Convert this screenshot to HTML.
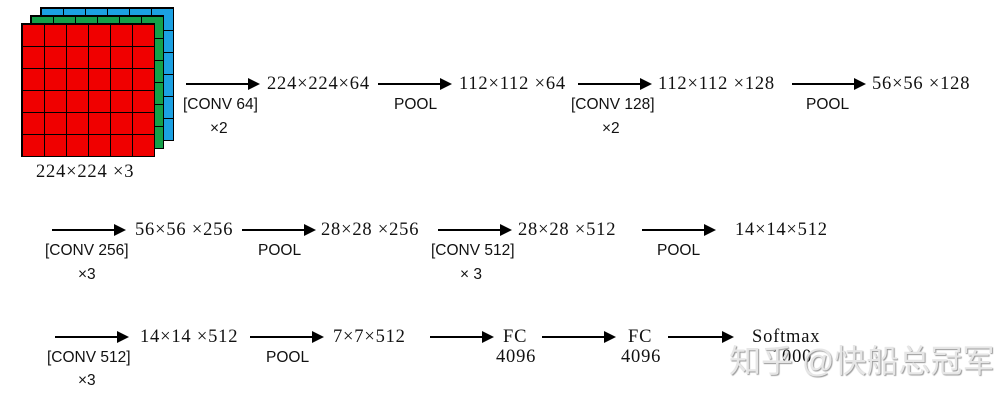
<!DOCTYPE html>
<html><head><meta charset="utf-8"><style>
body{margin:0;width:998px;height:410px;background:#fff;position:relative;overflow:hidden}
.t{position:absolute;font-family:"Liberation Serif",serif;font-size:18.5px;letter-spacing:0.8px;line-height:1;color:#111;white-space:nowrap}
.s{position:absolute;font-family:"Liberation Sans",sans-serif;font-size:15.5px;line-height:1;color:#111;white-space:nowrap}
.a{position:absolute;height:2px;background:#000}
.a:after{content:"";position:absolute;right:-2px;top:-5px;border-left:12px solid #000;border-top:6px solid transparent;border-bottom:6px solid transparent}
.g{position:absolute;border:1px solid #000;box-sizing:border-box;
background-image:linear-gradient(#000 1px,transparent 1px),linear-gradient(90deg,#000 1px,transparent 1px);background-size:22px 22px}
</style></head><body>
<div class="g" style="left:40px;top:7px;width:134px;height:134px;background-color:#1ba1e2"></div>
<div class="g" style="left:30px;top:15px;width:134px;height:134px;background-color:#14a04a"></div>
<div class="g" style="left:21px;top:23px;width:134px;height:134px;background-color:#f00000"></div>
<div class="t" style="left:36px;top:163px">224×224 ×3</div>

<div class="a" style="left:186px;top:83px;width:72px"></div>
<div class="t" style="left:267px;top:75px">224×224×64</div>
<div class="a" style="left:378px;top:83px;width:72px"></div>
<div class="t" style="left:459px;top:75px">112×112 ×64</div>
<div class="a" style="left:578px;top:83px;width:72px"></div>
<div class="t" style="left:658px;top:75px">112×112 ×128</div>
<div class="a" style="left:792px;top:83px;width:72px"></div>
<div class="t" style="left:872px;top:75px">56×56 ×128</div>
<div class="s" style="left:183px;top:97px">[CONV 64]</div>
<div class="s" style="left:210px;top:121px">×2</div>
<div class="s" style="left:394px;top:97px">POOL</div>
<div class="s" style="left:571px;top:97px">[CONV 128]</div>
<div class="s" style="left:602px;top:121px">×2</div>
<div class="s" style="left:806px;top:97px">POOL</div>

<div class="a" style="left:52px;top:229px;width:72px"></div>
<div class="t" style="left:135px;top:221px">56×56 ×256</div>
<div class="a" style="left:242px;top:229px;width:72px"></div>
<div class="t" style="left:321px;top:221px">28×28 ×256</div>
<div class="a" style="left:438px;top:229px;width:72px"></div>
<div class="t" style="left:518px;top:221px">28×28 ×512</div>
<div class="a" style="left:642px;top:229px;width:72px"></div>
<div class="t" style="left:735px;top:221px">14×14×512</div>
<div class="s" style="left:45px;top:243px">[CONV 256]</div>
<div class="s" style="left:78px;top:267px">×3</div>
<div class="s" style="left:258px;top:243px">POOL</div>
<div class="s" style="left:431px;top:243px">[CONV 512]</div>
<div class="s" style="left:460px;top:267px">× 3</div>
<div class="s" style="left:657px;top:243px">POOL</div>

<div class="a" style="left:55px;top:336px;width:72px"></div>
<div class="t" style="left:140px;top:328px">14×14 ×512</div>
<div class="a" style="left:250px;top:336px;width:72px"></div>
<div class="t" style="left:333px;top:328px">7×7×512</div>
<div class="a" style="left:430px;top:336px;width:62px"></div>
<div class="t" style="left:503px;top:328px">FC</div>
<div class="t" style="left:496px;top:348px">4096</div>
<div class="a" style="left:542px;top:336px;width:72px"></div>
<div class="t" style="left:628px;top:328px">FC</div>
<div class="t" style="left:621px;top:348px">4096</div>
<div class="a" style="left:668px;top:336px;width:64px"></div>
<div class="t" style="left:752px;top:328px">Softmax</div>
<div class="t" style="left:772px;top:348px">1000</div>
<div class="s" style="left:47px;top:350px">[CONV 512]</div>
<div class="s" style="left:78px;top:373px">×3</div>
<div class="s" style="left:266px;top:350px">POOL</div>

<div style="position:absolute;left:729px;top:345px;font-family:'Liberation Sans','Noto Sans CJK SC',sans-serif;font-size:32px;line-height:1;color:#e6e6e6;text-shadow:1px 1px 1px #999;white-space:nowrap">知乎 @快船总冠军</div>
</body></html>
